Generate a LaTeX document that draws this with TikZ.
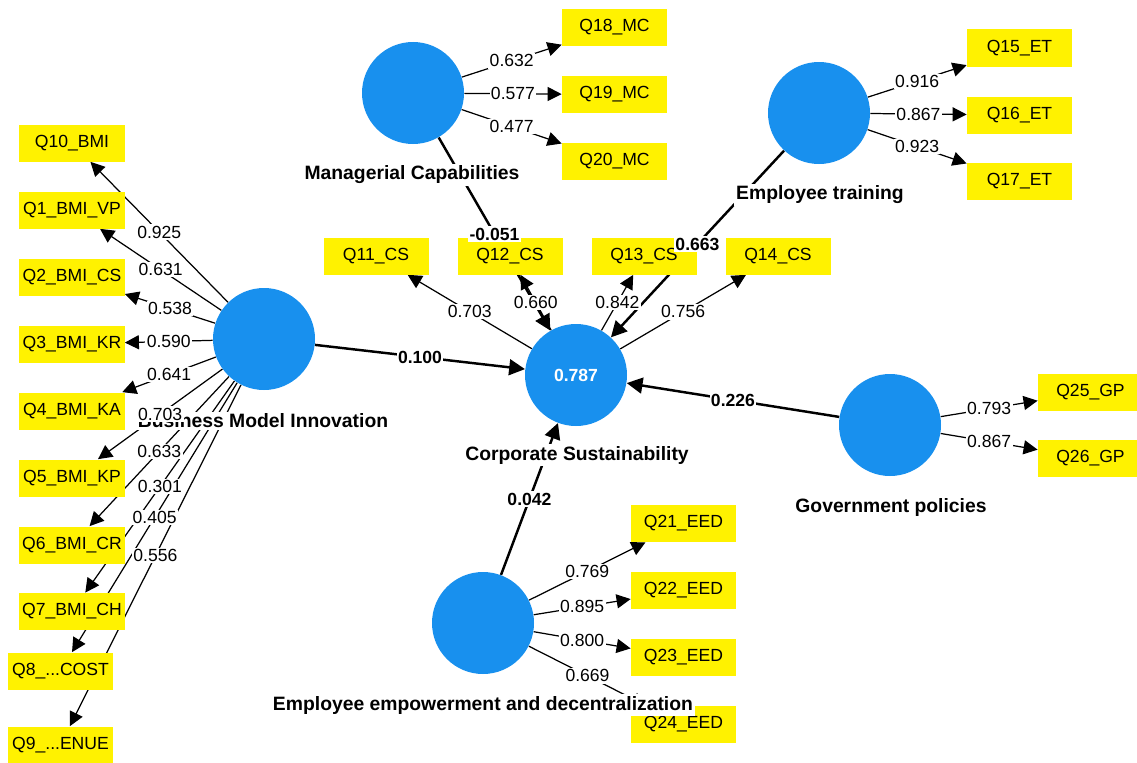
\documentclass[tikz,border=0pt]{standalone}
\usepackage{fontspec}
\setmainfont{Liberation Sans}
\usetikzlibrary{arrows.meta}
\pgfdeclarelayer{lines}
\pgfsetlayers{lines,main}
\definecolor{lvblue}{RGB}{24,144,238}
\definecolor{mvyellow}{RGB}{255,242,0}

\begin{document}
\begin{tikzpicture}[scale=0.2,
  lv/.style={circle,fill=lvblue,minimum size=2.04cm,inner sep=0pt,text=white,font=\fontsize{10}{12}\selectfont\bfseries},
  mv/.style={fill=mvyellow,minimum width=2.1cm,minimum height=0.74cm,inner sep=0pt,font=\fontsize{10}{12}\selectfont},
  lvname/.style={fill=white,inner sep=1pt,font=\fontsize{11}{13}\selectfont\bfseries},
  load/.style={line width=0.7pt,-{Triangle[length=8pt,width=8pt]}},
  struct/.style={line width=1.4pt,-{Triangle[length=9pt,width=9pt]}},
  num/.style={fill=white,inner sep=0.8pt,font=\fontsize{10}{12}\selectfont},
  coef/.style={fill=white,inner sep=0.8pt,font=\fontsize{10}{12}\selectfont\bfseries}]
\useasboundingbox (0,0) rectangle (113.7,-76.3);
% latent variables
\node [lv] (bmi) at (26.4,-33.9) {};
\node [lv] (mc) at (41.3,-9.3) {};
\node [lv] (et) at (81.9,-11.3) {};
\node [lv] (cs) at (57.6,-37.5) {0.787};
\node [lv] (gp) at (89.0,-42.5) {};
\node [lv] (eed) at (48.3,-62.3) {};
% indicators
\node [mv] (q10) at (7.2,-14.3) {Q10\_BMI};
\node [mv] (q1) at (7.2,-21.0) {Q1\_BMI\_VP};
\node [mv] (q2) at (7.2,-27.7) {Q2\_BMI\_CS};
\node [mv] (q3) at (7.2,-34.4) {Q3\_BMI\_KR};
\node [mv] (q4) at (7.2,-41.1) {Q4\_BMI\_KA};
\node [mv] (q5) at (7.2,-47.8) {Q5\_BMI\_KP};
\node [mv] (q6) at (7.2,-54.5) {Q6\_BMI\_CR};
\node [mv] (q7) at (7.2,-61.15) {Q7\_BMI\_CH};
\node [mv] (q8) at (6.05,-67.1) {Q8\_...COST};
\node [mv] (q9) at (6.05,-74.5) {Q9\_...ENUE};
\node [mv] (q18) at (61.45,-2.75) {Q18\_MC};
\node [mv] (q19) at (61.45,-9.45) {Q19\_MC};
\node [mv] (q20) at (61.45,-16.15) {Q20\_MC};
\node [mv] (q15) at (101.95,-4.8) {Q15\_ET};
\node [mv] (q16) at (101.95,-11.5) {Q16\_ET};
\node [mv] (q17) at (101.95,-18.15) {Q17\_ET};
\node [mv] (q11) at (37.6,-25.6) {Q11\_CS};
\node [mv] (q12) at (51.0,-25.6) {Q12\_CS};
\node [mv] (q13) at (64.4,-25.6) {Q13\_CS};
\node [mv] (q14) at (77.8,-25.6) {Q14\_CS};
\node [mv] (q25) at (109.05,-39.2) {Q25\_GP};
\node [mv] (q26) at (109.05,-45.85) {Q26\_GP};
\node [mv] (q21) at (68.35,-52.35) {Q21\_EED};
\node [mv] (q22) at (68.35,-59.05) {Q22\_EED};
\node [mv] (q23) at (68.35,-65.75) {Q23\_EED};
\node [mv] (q24) at (68.35,-72.45) {Q24\_EED};
% names
\node [lvname] at (26.3,-42.1) {Business Model Innovation};
\node [lvname] at (41.2,-17.5) {Managerial Capabilities};
\node [lvname] at (82.0,-19.5) {Employee training};
\node [lvname] at (57.7,-45.5) {Corporate Sustainability};
\node [lvname] at (89.1,-50.7) {Government policies};
\node [lvname] at (48.3,-70.5) {Employee empowerment and decentralization};
% outer loadings
\foreach \lv/\mv/\w in {bmi/q10/0.925,bmi/q1/0.631,bmi/q2/0.538,bmi/q3/0.590,bmi/q4/0.641,
    bmi/q5/0.703,bmi/q6/0.633,bmi/q7/0.301,bmi/q8/0.405,bmi/q9/0.556,
    mc/q18/0.632,mc/q19/0.577,mc/q20/0.477,et/q15/0.916,et/q16/0.867,et/q17/0.923,
    cs/q11/0.703,cs/q12/0.660,cs/q13/0.842,cs/q14/0.756,gp/q25/0.793,gp/q26/0.867,
    eed/q21/0.769,eed/q22/0.895,eed/q23/0.800,eed/q24/0.669}{
  \begin{pgfonlayer}{lines}
    \draw [load] (\lv) -- coordinate[midway] (m) (\mv);
  \end{pgfonlayer}
  \node [num] at (m) {\w};
}
% path coefficients
\foreach \lv/\w in {bmi/0.100,mc/-0.051,et/0.663,gp/0.226,eed/0.042}{
  \begin{pgfonlayer}{lines}
    \draw [struct] (\lv) -- coordinate[midway] (m) (cs);
  \end{pgfonlayer}
  \node [coef] at (m) {\w};
}
\end{tikzpicture}
\end{document}
